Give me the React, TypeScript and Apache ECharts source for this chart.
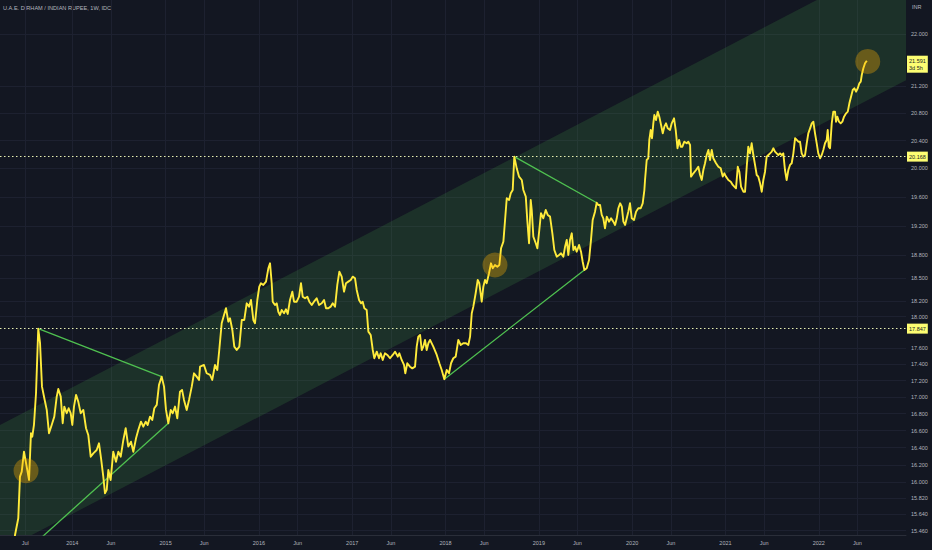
import React, { useEffect, useRef } from 'react';
import * as echarts from 'echarts';

const TITLE = 'U.A.E. DIRHAM / INDIAN RUPEE, 1W, IDC';
const CURRENCY = 'INR';

// weekly closes as [decimal year, AED/INR]
const closes2013to2015: [number, number][] = [
  [2013.225, 14.98], [2013.354, 15.19], [2013.386, 15.412], [2013.421, 15.597], [2013.439, 16.065], [2013.458, 16.122], [2013.482, 16.352], [2013.511, 16.179], [2013.536, 16.027], [2013.557, 16.568],
  [2013.571, 16.528], [2013.589, 16.666], [2013.611, 17.046], [2013.635, 17.847], [2013.654, 17.666], [2013.675, 17.126], [2013.7, 16.986], [2013.726, 16.845], [2013.75, 16.568], [2013.779, 16.666],
  [2013.807, 16.765], [2013.833, 17.005], [2013.85, 17.098], [2013.876, 17.005], [2013.897, 16.686], [2013.914, 16.885], [2013.94, 16.805], [2013.961, 16.865], [2013.983, 16.805], [2014.0, 16.666],
  [2014.018, 16.885], [2014.04, 17.026], [2014.064, 16.945], [2014.09, 16.805], [2014.118, 16.845], [2014.147, 16.627], [2014.171, 16.548], [2014.197, 16.294], [2014.225, 16.333], [2014.261, 16.372],
  [2014.286, 16.45], [2014.308, 16.276], [2014.332, 16.065], [2014.35, 15.877], [2014.369, 15.914], [2014.386, 16.141], [2014.411, 16.027], [2014.439, 16.352], [2014.468, 16.236], [2014.493, 16.352],
  [2014.519, 16.294], [2014.547, 16.489], [2014.572, 16.627], [2014.6, 16.411], [2014.629, 16.469], [2014.654, 16.352], [2014.683, 16.509], [2014.707, 16.607], [2014.736, 16.705], [2014.761, 16.646],
  [2014.787, 16.705], [2014.808, 16.666], [2014.833, 16.765], [2014.857, 16.725], [2014.879, 16.865], [2014.905, 16.905], [2014.929, 17.147], [2014.958, 17.248], [2014.983, 17.126], [2015.004, 16.845],
  [2015.029, 16.686], [2015.055, 16.845], [2015.076, 16.805], [2015.101, 16.885], [2015.125, 16.745], [2015.154, 17.065], [2015.176, 17.086], [2015.197, 16.965], [2015.226, 16.845], [2015.251, 16.965],
  [2015.28, 17.126], [2015.304, 17.289], [2015.333, 17.248], [2015.358, 17.208],
];

const closes2015to2017: [number, number][] = [
  [2015.369, 17.371], [2015.411, 17.392], [2015.44, 17.29], [2015.476, 17.269], [2015.5, 17.208], [2015.529, 17.392], [2015.554, 17.33], [2015.575, 17.578], [2015.601, 17.915], [2015.626, 18.021],
  [2015.647, 18.107], [2015.672, 17.935], [2015.69, 17.979], [2015.715, 17.83], [2015.736, 17.62], [2015.762, 17.578], [2015.79, 17.62], [2015.816, 17.957], [2015.843, 17.957], [2015.869, 18.171],
  [2015.894, 18.128], [2015.915, 18.214], [2015.94, 17.957], [2015.958, 17.915], [2015.983, 18.214], [2016.004, 18.387], [2016.022, 18.432], [2016.047, 18.41], [2016.076, 18.453], [2016.101, 18.629],
  [2016.119, 18.695], [2016.137, 18.432], [2016.148, 18.192], [2016.172, 18.149], [2016.191, 18.171], [2016.208, 18.063], [2016.226, 18.021], [2016.244, 18.085], [2016.269, 18.043], [2016.29, 18.094],
  [2016.309, 18.034], [2016.333, 18.214], [2016.358, 18.322], [2016.376, 18.192], [2016.405, 18.192], [2016.43, 18.257], [2016.451, 18.432], [2016.469, 18.257], [2016.494, 18.236], [2016.519, 18.257],
  [2016.54, 18.192], [2016.566, 18.149], [2016.59, 18.192], [2016.619, 18.236], [2016.644, 18.149], [2016.673, 18.171], [2016.698, 18.214], [2016.719, 18.107], [2016.744, 18.107], [2016.769, 18.128],
  [2016.791, 18.171], [2016.816, 18.128], [2016.84, 18.41], [2016.862, 18.585], [2016.887, 18.519], [2016.912, 18.322], [2016.933, 18.432], [2016.958, 18.453], [2016.984, 18.475], [2017.005, 18.519],
  [2017.03, 18.497], [2017.048, 18.344], [2017.073, 18.214], [2017.094, 18.171], [2017.112, 18.192], [2017.13, 18.107], [2017.155, 18.085], [2017.173, 17.809], [2017.198, 17.767], [2017.22, 17.578],
  [2017.237, 17.475], [2017.263, 17.557], [2017.287, 17.475], [2017.305, 17.537], [2017.327, 17.454], [2017.351, 17.537], [2017.376, 17.516], [2017.405, 17.475], [2017.434, 17.516], [2017.459, 17.557],
  [2017.488, 17.495], [2017.505, 17.537], [2017.53, 17.454], [2017.555, 17.392], [2017.569, 17.29], [2017.59, 17.413], [2017.619, 17.371], [2017.644, 17.35], [2017.673, 17.371], [2017.691, 17.62],
  [2017.708, 17.746], [2017.727, 17.767], [2017.745, 17.578], [2017.762, 17.62], [2017.78, 17.704], [2017.798, 17.578], [2017.816, 17.662],
];

const closes2017to2020: [number, number][] = [
  [2017.834, 17.704], [2017.869, 17.62], [2017.906, 17.516], [2017.934, 17.413], [2017.959, 17.33], [2017.987, 17.217], [2018.013, 17.33], [2018.037, 17.29], [2018.059, 17.413], [2018.083, 17.475],
  [2018.109, 17.495], [2018.137, 17.704], [2018.163, 17.641], [2018.19, 17.662], [2018.22, 17.662], [2018.244, 17.641], [2018.263, 17.746], [2018.281, 18.043], [2018.298, 18.128], [2018.323, 18.301],
  [2018.345, 18.475], [2018.362, 18.432], [2018.388, 18.192], [2018.405, 18.387], [2018.423, 18.475], [2018.441, 18.432], [2018.466, 18.563], [2018.487, 18.695], [2018.506, 18.629], [2018.53, 18.673],
  [2018.555, 18.65], [2018.577, 18.673], [2018.595, 18.896], [2018.62, 18.985], [2018.638, 19.28], [2018.656, 19.58], [2018.681, 19.556], [2018.699, 19.649], [2018.72, 19.695], [2018.737, 20.168],
  [2018.763, 20.001], [2018.788, 19.883], [2018.817, 19.836], [2018.834, 19.695], [2018.86, 19.602], [2018.876, 19.28], [2018.895, 18.963], [2018.913, 19.556], [2018.924, 19.417], [2018.941, 19.053],
  [2018.967, 18.963], [2018.984, 18.896], [2019.005, 19.143], [2019.023, 19.372], [2019.048, 19.303], [2019.074, 19.417], [2019.095, 19.349], [2019.12, 19.326], [2019.145, 19.098], [2019.166, 18.873],
  [2019.192, 18.783], [2019.217, 18.806], [2019.238, 18.828], [2019.263, 18.783], [2019.281, 18.918], [2019.299, 19.008], [2019.316, 18.806], [2019.334, 19.008], [2019.353, 19.098], [2019.37, 18.873],
  [2019.388, 18.918], [2019.406, 18.85], [2019.431, 18.94], [2019.452, 18.85], [2019.47, 18.716], [2019.488, 18.607], [2019.513, 18.629], [2019.538, 18.739], [2019.559, 19.008], [2019.577, 19.28],
  [2019.602, 19.394], [2019.62, 19.518], [2019.637, 19.486], [2019.656, 19.486], [2019.674, 19.349], [2019.691, 19.303], [2019.709, 19.166], [2019.728, 19.326], [2019.752, 19.257], [2019.774, 19.303],
  [2019.798, 19.257], [2019.817, 19.212], [2019.835, 19.303], [2019.852, 19.441], [2019.871, 19.51], [2019.889, 19.463], [2019.906, 19.257], [2019.924, 19.212], [2019.942, 19.303], [2019.959, 19.394],
  [2019.977, 19.51], [2019.996, 19.303], [2020.02, 19.28], [2020.042, 19.394], [2020.066, 19.441], [2020.092, 19.441], [2020.113, 19.51], [2020.131, 19.695],
];

const closes2020to2022: [number, number][] = [
  [2020.138, 19.836], [2020.156, 20.12], [2020.173, 20.144], [2020.184, 20.408], [2020.199, 20.553], [2020.213, 20.433], [2020.227, 20.651], [2020.238, 20.774], [2020.256, 20.7], [2020.274, 20.823],
  [2020.291, 20.749], [2020.31, 20.626], [2020.328, 20.505], [2020.345, 20.602], [2020.363, 20.651], [2020.381, 20.578], [2020.406, 20.553], [2020.424, 20.651], [2020.449, 20.725], [2020.467, 20.553],
  [2020.486, 20.288], [2020.503, 20.408], [2020.521, 20.311], [2020.538, 20.311], [2020.559, 20.383], [2020.585, 20.36], [2020.602, 20.383], [2020.621, 20.335], [2020.631, 19.883], [2020.656, 19.93],
  [2020.685, 19.977], [2020.709, 20.024], [2020.728, 19.906], [2020.746, 19.836], [2020.763, 19.977], [2020.781, 20.073], [2020.799, 20.191], [2020.817, 20.263], [2020.835, 20.12], [2020.853, 20.263],
  [2020.87, 20.144], [2020.899, 20.073], [2020.924, 20.024], [2020.949, 20.001], [2020.971, 19.883], [2020.988, 19.93], [2021.006, 19.883], [2021.031, 19.836], [2021.057, 19.812], [2021.078, 19.766],
  [2021.095, 19.742], [2021.113, 19.719], [2021.132, 20.024], [2021.149, 19.953], [2021.167, 19.742], [2021.192, 19.671], [2021.21, 19.671], [2021.228, 20.024], [2021.245, 20.311], [2021.263, 20.215],
  [2021.281, 20.36], [2021.299, 20.191], [2021.317, 20.049], [2021.335, 19.906], [2021.352, 19.883], [2021.371, 19.789], [2021.389, 19.671], [2021.406, 19.836], [2021.424, 19.953], [2021.442, 20.167],
  [2021.46, 20.191], [2021.478, 20.215], [2021.496, 20.239], [2021.513, 20.288], [2021.531, 20.239], [2021.549, 20.215], [2021.567, 20.191], [2021.585, 20.215], [2021.603, 20.191], [2021.62, 20.215],
  [2021.638, 19.977], [2021.656, 19.836], [2021.674, 19.977], [2021.692, 20.049], [2021.71, 20.073], [2021.728, 20.215], [2021.746, 20.433], [2021.764, 20.408], [2021.781, 20.383], [2021.799, 20.383],
  [2021.817, 20.215], [2021.835, 20.167], [2021.853, 20.191], [2021.871, 20.36], [2021.888, 20.505], [2021.907, 20.578], [2021.925, 20.651], [2021.942, 20.675], [2021.96, 20.505], [2021.978, 20.36],
  [2021.995, 20.215], [2022.014, 20.144], [2022.032, 20.191], [2022.049, 20.263], [2022.067, 20.36], [2022.085, 20.408], [2022.096, 20.553], [2022.107, 20.311], [2022.121, 20.288], [2022.139, 20.651],
  [2022.156, 20.823], [2022.174, 20.823], [2022.185, 20.675], [2022.199, 20.749], [2022.217, 20.675], [2022.235, 20.651], [2022.253, 20.675], [2022.271, 20.749], [2022.293, 20.798], [2022.311, 20.823],
  [2022.328, 20.947], [2022.346, 21.046], [2022.364, 21.146], [2022.381, 21.172], [2022.4, 21.121], [2022.418, 21.172], [2022.435, 21.247], [2022.45, 21.272], [2022.461, 21.373], [2022.478, 21.475],
  [2022.496, 21.551], [2022.515, 21.591],
];

const priceTicks = [15.46, 15.64, 15.82, 16.0, 16.2, 16.4, 16.6, 16.8, 17.0, 17.2, 17.4, 17.6, 18.0, 18.2, 18.5, 18.8, 19.2, 19.6, 20.0, 20.4, 20.8, 21.2, 22.0];
const timeTickValues = [2013.496, 2014, 2014.414, 2015, 2015.414, 2016, 2016.415, 2017, 2017.414, 2018, 2018.414, 2019, 2019.414, 2020, 2020.415, 2021, 2021.414, 2022, 2022.414];
const timeTickLabels = ['Jul', '2014', 'Jun', '2015', 'Jun', '2016', 'Jun', '2017', 'Jun', '2018', 'Jun', '2019', 'Jun', '2020', 'Jun', '2021', 'Jun', '2022', 'Jun'];

const timeMin = 2013.225;
const timeMax = 2022.935;
const priceMin = 15.412;
const priceMax = 22.543;

// parallel channel (log price) anchors at the chart's left and right edges
const channelTimes = [2013.225, 2022.935];
const channelLower = [15.232, 21.294];
const channelUpper = [16.666, 23.299];

const trendLines: [number, number][][] = [
  [[2013.635, 17.847], [2014.958, 17.248]],
  [[2013.632, 15.35], [2015.029, 16.686]],
  [[2017.987, 17.217], [2019.488, 18.607]],
  [[2018.737, 20.168], [2019.62, 19.518]],
];

const highlightPoints: [number, number][] = [[2013.504, 16.133], [2018.53, 18.673], [2022.525, 21.58]];

const levelLines = [20.168, 17.847];
const lastClose = 21.591;
const countdown = '3d 5h';

const BG = '#131722';
const GRID = '#1d2130';
const TEXT = '#b2b5be';
const FONT = 'Liberation Sans';

export default function App() {
  const ref = useRef<HTMLDivElement>(null);

  useEffect(() => {
    document.body.style.margin = '0';
    document.body.style.background = BG;
    if (!ref.current) return;
    const chart = echarts.init(ref.current, undefined, { renderer: 'svg' });
    const lg = (v: number) => Math.log(v);
    const toPt = (p: [number, number]) => [p[0], lg(p[1])];
    const closes = [...closes2013to2015, ...closes2015to2017, ...closes2017to2020, ...closes2020to2022];

    const labelBox = {
      show: true,
      position: 'end',
      distance: 1,
      backgroundColor: '#fdfd72',
      color: '#1a1d26',
      fontSize: 5.5,
      fontFamily: FONT,
      padding: [1.5, 2],
      lineHeight: 7,
    };

    const option: any = {
      animation: false,
      backgroundColor: BG,
      grid: { left: 0, right: 26, top: 0, bottom: 15, containLabel: false },
      graphic: [
        { type: 'text', left: 3, top: 5, style: { text: TITLE, fill: TEXT, fontSize: 5.6, fontFamily: FONT, fontWeight: 500 } },
        { type: 'text', left: 912, top: 4, style: { text: CURRENCY, fill: TEXT, fontSize: 5.5, fontFamily: FONT } },
      ],
      xAxis: {
        type: 'value',
        min: timeMin,
        max: timeMax,
        axisLine: { show: true, lineStyle: { color: '#2a2e39', width: 1 } },
        axisTick: { show: false, customValues: timeTickValues },
        splitLine: { show: true, lineStyle: { color: GRID, width: 1 } },
        axisLabel: {
          customValues: timeTickValues,
          margin: 5,
          color: TEXT,
          fontSize: 5.5,
          fontFamily: FONT,
          formatter: (val: number) => {
            let best = 0;
            timeTickValues.forEach((t, i) => {
              if (Math.abs(t - val) < Math.abs(timeTickValues[best] - val)) best = i;
            });
            return timeTickLabels[best];
          },
        },
      },
      yAxis: {
        type: 'value',
        position: 'right',
        min: lg(priceMin),
        max: lg(priceMax),
        axisLine: { show: false },
        axisTick: { show: false, customValues: priceTicks.map(lg) },
        splitLine: { show: true, lineStyle: { color: GRID, width: 1 } },
        axisLabel: {
          customValues: priceTicks.map(lg),
          margin: 5,
          color: TEXT,
          fontSize: 5.5,
          fontFamily: FONT,
          formatter: (val: number) => Math.exp(val).toFixed(3),
        },
      },
      series: [
        {
          type: 'custom',
          silent: true,
          clip: true,
          z: 1,
          data: [[channelTimes[0], lg(channelLower[0])]],
          renderItem: (_params: any, api: any) => {
            const pts = [
              api.coord([channelTimes[0], lg(channelUpper[0])]),
              api.coord([channelTimes[1], lg(channelUpper[1])]),
              api.coord([channelTimes[1], lg(channelLower[1])]),
              api.coord([channelTimes[0], lg(channelLower[0])]),
            ];
            return { type: 'polygon', shape: { points: pts }, style: { fill: 'rgba(76,175,80,0.17)' } };
          },
        },
        ...trendLines.map((seg) => ({
          type: 'line',
          silent: true,
          z: 3,
          symbol: 'none',
          clip: true,
          data: seg.map(toPt),
          lineStyle: { color: '#4fc150', width: 1.3 },
        })),
        {
          type: 'line',
          name: 'AED/INR',
          z: 4,
          symbol: 'none',
          clip: true,
          data: closes.map(toPt),
          lineStyle: { color: '#ffeb3b', width: 1.9, join: 'round' },
          markLine: {
            silent: true,
            symbol: 'none',
            precision: 8,
            data: [
              ...levelLines.map((v) => ({
                yAxis: lg(v),
                lineStyle: { color: '#e6eeb0', type: [1.5, 2.5], width: 1 },
                label: { ...labelBox, formatter: v.toFixed(3) },
              })),
              {
                yAxis: lg(lastClose),
                lineStyle: { color: 'rgba(0,0,0,0)', width: 1 },
                label: { ...labelBox, padding: [2, 2, 1, 2], offset: [0, 3.5], formatter: lastClose.toFixed(3) + '\n' + countdown },
              },
            ],
          },
        },
        {
          type: 'scatter',
          silent: true,
          z: 5,
          symbolSize: 25,
          data: highlightPoints.map(toPt),
          itemStyle: { color: 'rgba(255,176,0,0.42)' },
        },
      ],
    };
    chart.setOption(option);
    return () => chart.dispose();
  }, []);

  return <div ref={ref} style={{ width: 932, height: 550 }} />;
}
